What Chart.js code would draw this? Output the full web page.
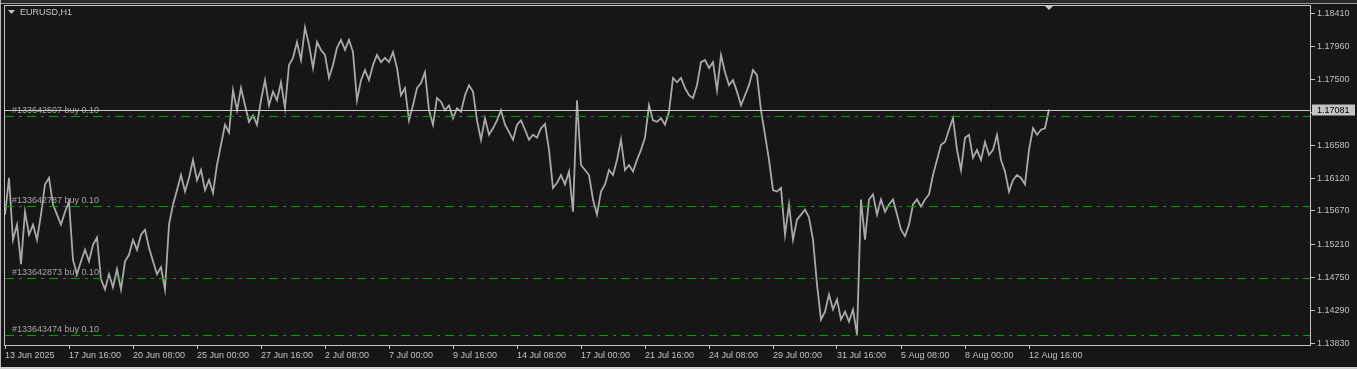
<!DOCTYPE html>
<html>
<head>
<meta charset="utf-8">
<script src="https://cdn.jsdelivr.net/npm/chart.js@4/dist/chart.umd.min.js"></script>
<style>
  html, body { margin: 0; padding: 0; background: #161616; }
  canvas { display: block; }
</style>
</head>
<body>
<canvas id="priceChart" width="1357" height="369"></canvas>
<script>
// EURUSD H1 - price path, one value every 4 bars
const symbolTitle = "EURUSD,H1";
const barsPerPoint = 4;
const closes = [
  1.1562, 1.1613, 1.1527, 1.1548, 1.1493, 1.1566, 1.1534, 1.1548, 1.1527, 1.1562,
  1.1604, 1.1613, 1.1576, 1.1562, 1.1548, 1.1566, 1.1580, 1.1499, 1.1479, 1.1497,
  1.1513, 1.1497, 1.1520, 1.1530, 1.1472, 1.1458, 1.1479, 1.1461, 1.1486, 1.1458,
  1.1497, 1.1506, 1.1527, 1.1513, 1.1534, 1.1541, 1.1516, 1.1497, 1.1479, 1.1489,
  1.1458, 1.1548, 1.1576, 1.1596, 1.1617, 1.1594, 1.1613, 1.1638, 1.1610, 1.1624,
  1.1596, 1.1610, 1.1592, 1.1631, 1.1659, 1.1687, 1.1676, 1.1735, 1.1707, 1.1738,
  1.1714, 1.1691, 1.1700, 1.1687, 1.1721, 1.1749, 1.1714, 1.1733, 1.1721, 1.1746,
  1.1710, 1.1770, 1.1780, 1.1802, 1.1777, 1.1822, 1.1798, 1.1766, 1.1802, 1.1791,
  1.1784, 1.1752, 1.1770, 1.1794, 1.1805, 1.1791, 1.1805, 1.1788, 1.1721, 1.1749,
  1.1763, 1.1749, 1.1770, 1.1784, 1.1774, 1.1780, 1.1774, 1.1788, 1.1766, 1.1728,
  1.1738, 1.1693, 1.1714, 1.1738, 1.1745, 1.1760, 1.1707, 1.1687, 1.1724, 1.1719,
  1.1707, 1.1714, 1.1696, 1.1710, 1.1705, 1.1728, 1.1742, 1.1733, 1.1693, 1.1666,
  1.1696, 1.1673, 1.1682, 1.1693, 1.1707, 1.1687, 1.1677, 1.1666, 1.1687, 1.1693,
  1.1680, 1.1666, 1.1673, 1.1669, 1.1682, 1.1688, 1.1652, 1.1599, 1.1606, 1.1617,
  1.1604, 1.1622, 1.1566, 1.1721, 1.1631, 1.1624, 1.1617, 1.1583, 1.1562, 1.1594,
  1.1604, 1.1624, 1.1617, 1.1638, 1.1666, 1.1624, 1.1631, 1.1622, 1.1638, 1.1652,
  1.1669, 1.1714, 1.1693, 1.1691, 1.1696, 1.1687, 1.1705, 1.1752, 1.1746, 1.1752,
  1.1738, 1.1728, 1.1724, 1.1742, 1.1774, 1.1777, 1.1766, 1.1774, 1.1735, 1.1784,
  1.1760, 1.1742, 1.1749, 1.1733, 1.1714, 1.1728, 1.1742, 1.1763, 1.1756, 1.1707,
  1.1673, 1.1638, 1.1596, 1.1594, 1.1599, 1.1534, 1.1576, 1.1527, 1.1555, 1.1562,
  1.1569, 1.1558, 1.1527, 1.1465, 1.1416, 1.1427, 1.1451, 1.1430, 1.1444, 1.1416,
  1.1427, 1.1413, 1.1430, 1.1395, 1.1583, 1.1527, 1.1583, 1.1590, 1.1562, 1.1583,
  1.1566, 1.1576, 1.1583, 1.1562, 1.1541, 1.1532, 1.1548, 1.1576, 1.1583, 1.1573,
  1.1583, 1.1590, 1.1617, 1.1638, 1.1659, 1.1663, 1.1680, 1.1696, 1.1652, 1.1624,
  1.1669, 1.1673, 1.1641, 1.1652, 1.1638, 1.1663, 1.1645, 1.1652, 1.1673, 1.1638,
  1.1622, 1.1594, 1.1610, 1.1617, 1.1613, 1.1604, 1.1652, 1.1682, 1.1673, 1.1680,
  1.1682, 1.17081
];
const lastPrice = 1.17081;

// time axis: one label every 64 H1 bars
const barsPerLabel = 64;
const timeLabels = [
  "13 Jun 2025", "17 Jun 16:00", "20 Jun 08:00", "25 Jun 00:00", "27 Jun 16:00",
  "2 Jul 08:00", "7 Jul 00:00", "9 Jul 16:00", "14 Jul 08:00", "17 Jul 00:00",
  "21 Jul 16:00", "24 Jul 08:00", "29 Jul 00:00", "31 Jul 16:00", "5 Aug 08:00",
  "8 Aug 00:00", "12 Aug 16:00"
];
const priceTicks = [1.1383, 1.1429, 1.1475, 1.1521, 1.1567, 1.1612, 1.1658, 1.1704, 1.1750, 1.1796, 1.1841];

// open orders
const orderTickets = ["#133642507", "#133642787", "#133642873", "#133643474"];
const orderTypes = ["buy", "buy", "buy", "buy"];
const orderLots = ["0.10", "0.10", "0.10", "0.10"];
const orderPrices = [1.16987, 1.15740, 1.14734, 1.13941];

const FONT = "Liberation Sans, Arial, sans-serif";

// background, frame, order labels behind the price
const backdrop = {
  id: "backdrop",
  beforeDraw(chart) {
    const ctx = chart.ctx;
    ctx.save();
    ctx.fillStyle = "#161616";
    ctx.fillRect(0, 0, chart.width, chart.height);
    ctx.fillStyle = "#2a2a2a";
    ctx.fillRect(0, 0, chart.width, 3);
    ctx.fillStyle = "#9a9a9a";
    ctx.fillRect(0, 3, chart.width, 1);
    ctx.fillStyle = "#b8b8b8";
    ctx.fillRect(0, 0, 1, chart.height);
    ctx.fillStyle = "#cfcfcf";
    ctx.fillRect(0, chart.height - 2, chart.width, 2);
    ctx.restore();
  },
  beforeDatasetsDraw(chart) {
    const ctx = chart.ctx;
    const y = chart.scales.y;
    const area = chart.chartArea;
    ctx.save();
    ctx.font = "9px " + FONT;
    ctx.fillStyle = "#a4a4a4";
    ctx.textBaseline = "alphabetic";
    orderPrices.forEach((p, i) => {
      const py = y.getPixelForValue(p);
      ctx.fillText(orderTickets[i] + " " + orderTypes[i] + " " + orderLots[i], area.left + 8, py - 3);
    });
    ctx.restore();
  }
};

// order lines, bid line, border, price label, title
const overlay = {
  id: "overlay",
  afterDatasetsDraw(chart) {
    const ctx = chart.ctx;
    const y = chart.scales.y;
    const x = chart.scales.x;
    const area = chart.chartArea;
    ctx.save();
    ctx.strokeStyle = "#00a000";
    ctx.lineWidth = 1;
    ctx.setLineDash([9, 5, 3, 5]);
    orderPrices.forEach(p => {
      const py = Math.round(y.getPixelForValue(p)) + 0.5;
      ctx.beginPath();
      ctx.moveTo(area.left + 1, py);
      ctx.lineTo(area.right, py);
      ctx.stroke();
    });
    ctx.setLineDash([]);

    // bid line
    const by = Math.round(y.getPixelForValue(lastPrice)) + 0.5;
    ctx.strokeStyle = "#c8c8c8";
    ctx.beginPath();
    ctx.moveTo(area.left, by);
    ctx.lineTo(area.right, by);
    ctx.stroke();

    // plot border
    ctx.strokeStyle = "#c4c4c4";
    ctx.strokeRect(area.left + 0.5, area.top + 0.5, area.right - area.left - 1, area.bottom - area.top);

    // current price box on the axis
    ctx.fillStyle = "#c4c4c4";
    ctx.fillRect(area.right + 1, by - 6, 43, 11);
    ctx.fillStyle = "#000000";
    ctx.font = "9px " + FONT;
    ctx.textBaseline = "middle";
    ctx.fillText(lastPrice.toFixed(5), area.right + 6, by);

    // symbol title
    ctx.fillStyle = "#c8c8c8";
    ctx.beginPath();
    ctx.moveTo(8, 10);
    ctx.lineTo(15, 10);
    ctx.lineTo(11.5, 14);
    ctx.closePath();
    ctx.fill();
    ctx.font = "9px " + FONT;
    ctx.fillText(symbolTitle, 20, 12.5);

    // chart shift marker above the last bar
    const sx = x.getPixelForValue((closes.length - 1) * barsPerPoint);
    ctx.beginPath();
    ctx.moveTo(sx - 5, 5);
    ctx.lineTo(sx + 5, 5);
    ctx.lineTo(sx, 10);
    ctx.closePath();
    ctx.fill();
    ctx.restore();
  }
};

new Chart(document.getElementById("priceChart"), {
  type: "line",
  data: {
    datasets: [{
      label: "EURUSD",
      data: closes.map((v, i) => ({ x: i * barsPerPoint, y: v })),
      borderColor: "#a9a9a9",
      borderWidth: 1.8,
      pointRadius: 0,
      tension: 0
    }]
  },
  options: {
    responsive: false,
    devicePixelRatio: 1,
    animation: false,
    layout: { padding: { left: 4, top: 5, right: 0, bottom: 0 } },
    plugins: { legend: { display: false }, tooltip: { enabled: false } },
    scales: {
      x: {
        type: "linear",
        min: -1,
        max: 1306,
        afterBuildTicks: s => { s.ticks = timeLabels.map((_, k) => ({ value: k * barsPerLabel })); },
        afterFit: s => { s.height = 24; },
        ticks: {
          callback: v => timeLabels[Math.round(v / barsPerLabel)],
          align: "start",
          autoSkip: false,
          maxRotation: 0,
          minRotation: 0,
          padding: 1,
          color: "#c0c0c0",
          font: { family: FONT, size: 9 }
        },
        grid: { drawOnChartArea: false, tickLength: 4, color: "#c4c4c4" },
        border: { display: false }
      },
      y: {
        position: "right",
        min: 1.13806,
        max: 1.18535,
        afterBuildTicks: s => { s.ticks = priceTicks.map(v => ({ value: v })); },
        afterFit: s => { s.width = 46; s.paddingTop = 0; s.paddingBottom = 0; },
        ticks: {
          callback: v => v.toFixed(5),
          padding: 2,
          color: "#c0c0c0",
          font: { family: FONT, size: 9, lineHeight: 0.8 }
        },
        grid: { drawOnChartArea: false, tickLength: 4, color: "#c4c4c4" },
        border: { display: false }
      }
    }
  },
  plugins: [backdrop, overlay]
});
</script>
</body>
</html>
